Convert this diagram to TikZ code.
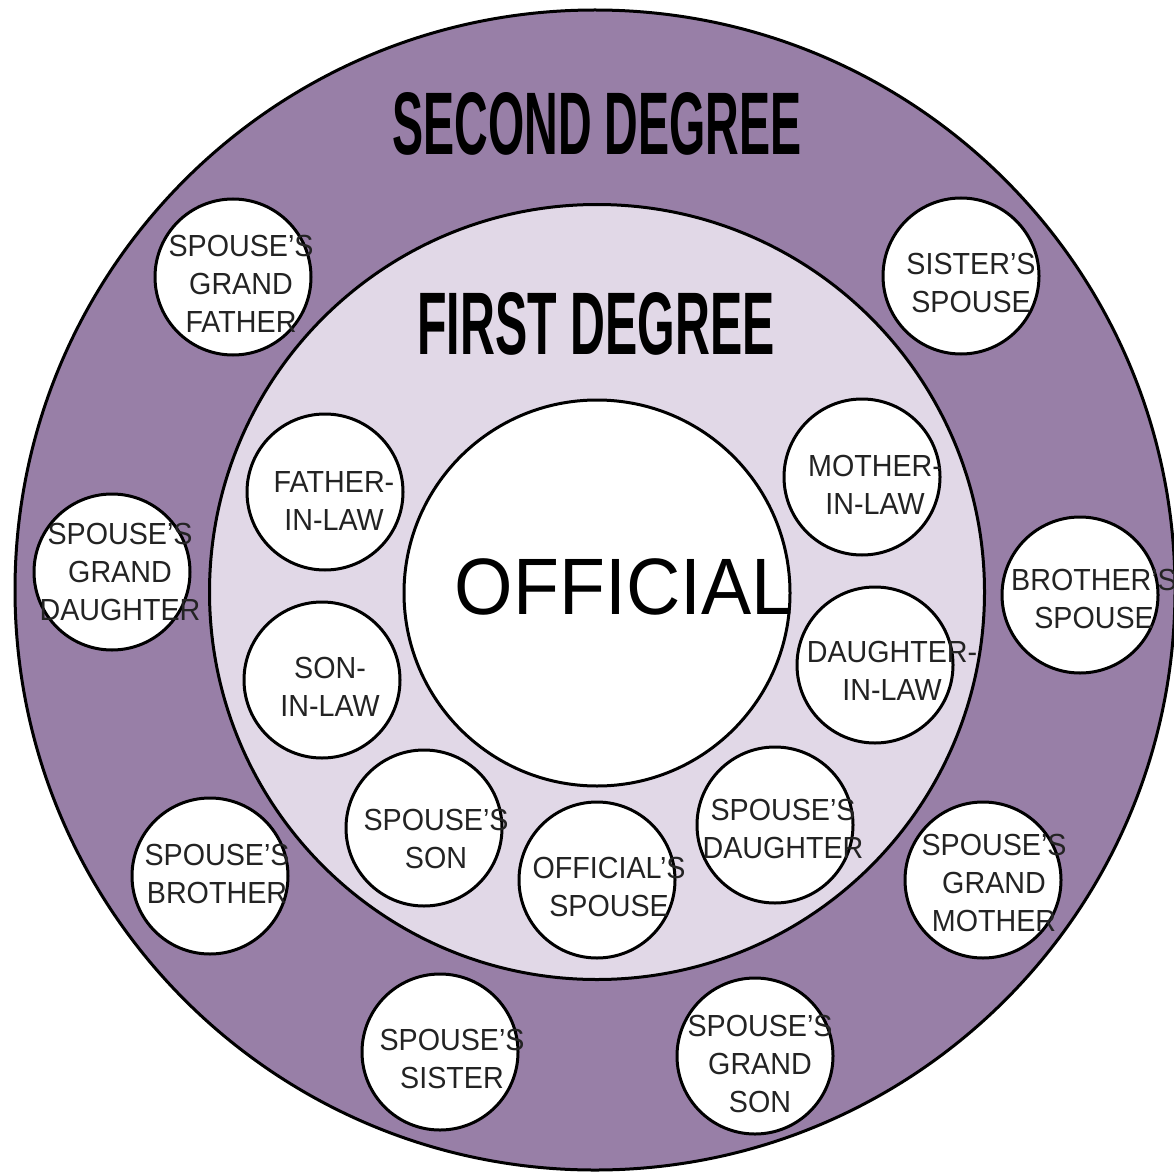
\documentclass[tikz,border=0pt]{standalone}
\usepackage{fontspec}
\setmainfont{Liberation Sans}
\newfontfamily\tagfont[Ligatures=TeX, FakeStretch=0.94]{Liberation Sans}
\usepackage{graphicx}
\usepackage{tikz}
\definecolor{ringouter}{RGB}{152,127,167}
\definecolor{ringinner}{RGB}{225,216,231}
\definecolor{tagtext}{RGB}{35,35,35}

\begin{document}
\begin{tikzpicture}[x=1pt, y=-1pt, line width=3pt,
    ring/.style={circle, draw=black, fill=white, minimum size=156pt, inner sep=0pt},
    tag/.style={align=center, text=tagtext, inner sep=0pt,
        font=\tagfont\fontsize{30.5}{38}\selectfont},
    degree/.style={inner sep=0pt}]
    \useasboundingbox (0,0) rectangle (1173,1174);
    \node[circle, draw=black, fill=ringouter, minimum size=1160pt, inner sep=0pt] (second) at (595,590) {};
    \node[circle, draw=black, fill=ringinner, minimum size=775pt, inner sep=0pt] (first) at (597,592) {};
    \node[circle, draw=black, fill=white, minimum size=386pt, inner sep=0pt] (official) at (597,593) {};
    \node[ring] (gf) at (233,277) {};
    \node[ring] (sisp) at (961,276) {};
    \node[ring] (gd) at (112,572) {};
    \node[ring] (brsp) at (1080,595) {};
    \node[ring] (fil) at (325,492) {};
    \node[ring] (mil) at (862,477) {};
    \node[ring] (sil) at (322,680) {};
    \node[ring] (dil) at (875,665) {};
    \node[ring] (sson) at (424,828) {};
    \node[ring] (ospouse) at (597,880) {};
    \node[ring] (sdau) at (775,825) {};
    \node[ring] (sbro) at (210,876) {};
    \node[ring] (gm) at (983,880) {};
    \node[ring] (ssis) at (440,1052) {};
    \node[ring] (gs) at (755,1056) {};
    \node[degree] (second-t) at (597,124) {\resizebox{409pt}{62pt}{\textbf{SECOND DEGREE}}};
    \node[degree] (first-t) at (596,324) {\resizebox{357pt}{62pt}{\textbf{FIRST DEGREE}}};
    \node[inner sep=0pt, font=\tagfont\fontsize{80}{84}\selectfont] (official-t) at (624,587) {OFFICIAL};
    \node[tag] (gf-t) at (241,284) {SPOUSE'S\\GRAND\\FATHER};
    \node[tag] (sisp-t) at (971,283) {SISTER'S\\SPOUSE};
    \node[tag] (gd-t) at (120,572) {SPOUSE'S\\GRAND\\DAUGHTER};
    \node[tag] (brsp-t) at (1094,599) {BROTHER'S\\SPOUSE};
    \node[tag] (fil-t) at (334,501) {FATHER-\\IN-LAW};
    \node[tag] (mil-t) at (875,485) {MOTHER-\\IN-LAW};
    \node[tag] (sil-t) at (330,687) {SON-\\IN-LAW};
    \node[tag] (dil-t) at (892,671) {DAUGHTER-\\IN-LAW};
    \node[tag] (sson-t) at (436,839) {SPOUSE'S\\SON};
    \node[tag] (ospouse-t) at (609,887) {OFFICIAL'S\\SPOUSE};
    \node[tag] (sdau-t) at (783,829) {SPOUSE'S\\DAUGHTER};
    \node[tag] (sbro-t) at (217,874) {SPOUSE'S\\BROTHER};
    \node[tag] (gm-t) at (994,883) {SPOUSE'S\\GRAND\\MOTHER};
    \node[tag] (ssis-t) at (452,1059) {SPOUSE'S\\SISTER};
    \node[tag] (gs-t) at (760,1064) {SPOUSE'S\\GRAND\\SON};
\end{tikzpicture}
\end{document}
